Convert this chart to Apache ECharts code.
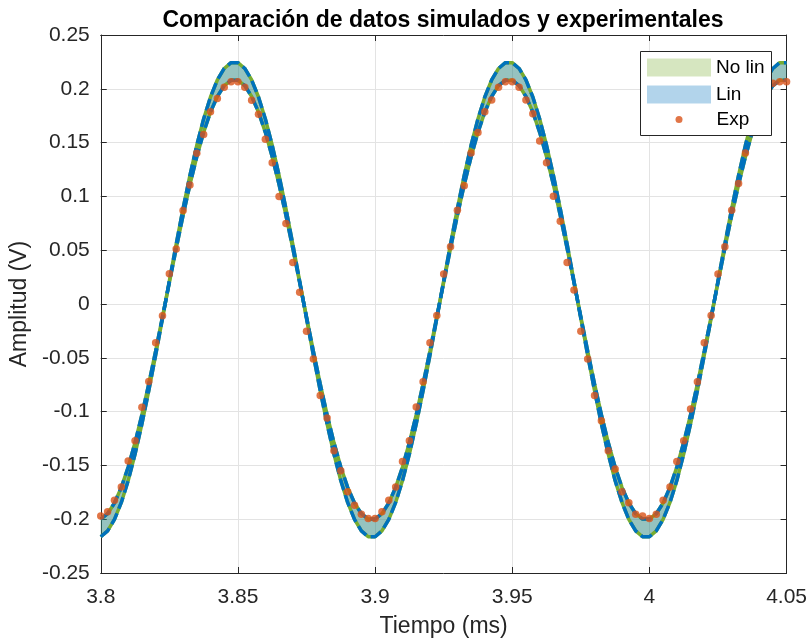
<!DOCTYPE html>
<html lang="es">
<head>
    <meta charset="utf-8">
    <title>Comparación de datos simulados y experimentales</title>
    <script src="https://cdn.jsdelivr.net/npm/echarts@6/dist/echarts.min.js"></script>
    <style>
        html, body { margin: 0; padding: 0; background: #fff; }
        #main { width: 810px; height: 643px; }
    </style>
</head>
<body>
<div id="main"></div>
<script type="text/javascript">
    // tiempo en ms, muestreo cada 0.0025 ms
    var tiempo = [
        3.8, 3.8025, 3.805, 3.8075, 3.81, 3.8125, 3.815, 3.8175, 3.82, 3.8225,
        3.825, 3.8275, 3.83, 3.8325, 3.835, 3.8375, 3.84, 3.8425, 3.845, 3.8475,
        3.85, 3.8525, 3.855, 3.8575, 3.86, 3.8625, 3.865, 3.8675, 3.87, 3.8725,
        3.875, 3.8775, 3.88, 3.8825, 3.885, 3.8875, 3.89, 3.8925, 3.895, 3.8975,
        3.9, 3.9025, 3.905, 3.9075, 3.91, 3.9125, 3.915, 3.9175, 3.92, 3.9225,
        3.925, 3.9275, 3.93, 3.9325, 3.935, 3.9375, 3.94, 3.9425, 3.945, 3.9475,
        3.95, 3.9525, 3.955, 3.9575, 3.96, 3.9625, 3.965, 3.9675, 3.97, 3.9725,
        3.975, 3.9775, 3.98, 3.9825, 3.985, 3.9875, 3.99, 3.9925, 3.995, 3.9975,
        4.0, 4.0025, 4.005, 4.0075, 4.01, 4.0125, 4.015, 4.0175, 4.02, 4.0225,
        4.025, 4.0275, 4.03, 4.0325, 4.035, 4.0375, 4.04, 4.0425, 4.045, 4.0475,
        4.05
    ];

    // borde exterior de la banda simulada
    var simSup = [
        -0.2163, -0.2109, -0.2002, -0.1844, -0.1641, -0.1395, -0.1115, -0.0806, -0.0476, -0.0133,
        0.0213, 0.0556, 0.0886, 0.1195, 0.1475, 0.1720, 0.1924, 0.2082, 0.2189, 0.2243,
        0.2243, 0.2189, 0.2082, 0.1924, 0.1720, 0.1475, 0.1195, 0.0886, 0.0556, 0.0213,
        -0.0133, -0.0476, -0.0806, -0.1115, -0.1395, -0.1641, -0.1844, -0.2002, -0.2109, -0.2163,
        -0.2163, -0.2109, -0.2002, -0.1844, -0.1641, -0.1395, -0.1115, -0.0806, -0.0476, -0.0133,
        0.0213, 0.0556, 0.0886, 0.1195, 0.1475, 0.1720, 0.1924, 0.2082, 0.2189, 0.2243,
        0.2243, 0.2189, 0.2082, 0.1924, 0.1720, 0.1475, 0.1195, 0.0886, 0.0556, 0.0213,
        -0.0133, -0.0476, -0.0806, -0.1115, -0.1395, -0.1641, -0.1844, -0.2002, -0.2109, -0.2163,
        -0.2163, -0.2109, -0.2002, -0.1844, -0.1641, -0.1395, -0.1115, -0.0806, -0.0476, -0.0133,
        0.0213, 0.0556, 0.0886, 0.1195, 0.1475, 0.1720, 0.1924, 0.2082, 0.2189, 0.2243,
        0.2243
    ];

    // borde interior de la banda simulada
    var simInf = [
        -0.1999, -0.1949, -0.1849, -0.1704, -0.1515, -0.1288, -0.1029, -0.0743, -0.0437, -0.0120,
        0.0200, 0.0517, 0.0823, 0.1109, 0.1368, 0.1595, 0.1784, 0.1929, 0.2029, 0.2079,
        0.2079, 0.2029, 0.1929, 0.1784, 0.1595, 0.1368, 0.1109, 0.0823, 0.0517, 0.0200,
        -0.0120, -0.0437, -0.0743, -0.1029, -0.1288, -0.1515, -0.1704, -0.1849, -0.1949, -0.1999,
        -0.1999, -0.1949, -0.1849, -0.1704, -0.1515, -0.1288, -0.1029, -0.0743, -0.0437, -0.0120,
        0.0200, 0.0517, 0.0823, 0.1109, 0.1368, 0.1595, 0.1784, 0.1929, 0.2029, 0.2079,
        0.2079, 0.2029, 0.1929, 0.1784, 0.1595, 0.1368, 0.1109, 0.0823, 0.0517, 0.0200,
        -0.0120, -0.0437, -0.0743, -0.1029, -0.1288, -0.1515, -0.1704, -0.1849, -0.1949, -0.1999,
        -0.1999, -0.1949, -0.1849, -0.1704, -0.1515, -0.1288, -0.1029, -0.0743, -0.0437, -0.0120,
        0.0200, 0.0517, 0.0823, 0.1109, 0.1368, 0.1595, 0.1784, 0.1929, 0.2029, 0.2079,
        0.2079
    ];

    // datos experimentales (V)
    var experimental = [
        -0.197, -0.193, -0.1825, -0.170, -0.146, -0.127, -0.096, -0.072, -0.036, -0.011,
        0.028, 0.051, 0.087, 0.1105, 0.140, 0.1575, 0.1786, 0.191, 0.2014, 0.2066,
        0.2066, 0.2014, 0.1893, 0.1764, 0.153, 0.1313, 0.100, 0.0747, 0.0386, 0.011,
        -0.0253, -0.051, -0.085, -0.106, -0.1365, -0.155, -0.1744, -0.187, -0.1953, -0.1993,
        -0.1993, -0.1931, -0.1825, -0.170, -0.1464, -0.1271, -0.0957, -0.0723, -0.0359, -0.0107,
        0.0279, 0.0531, 0.0871, 0.1099, 0.1403, 0.1593, 0.1786, 0.1895, 0.2014, 0.2066,
        0.2066, 0.2014, 0.1895, 0.1768, 0.1516, 0.1313, 0.1002, 0.0768, 0.0386, 0.013,
        -0.0253, -0.0511, -0.0851, -0.1084, -0.1365, -0.1533, -0.1744, -0.1846, -0.1953, -0.1971,
        -0.1993, -0.1953, -0.1825, -0.1701, -0.1464, -0.1271, -0.0975, -0.0723, -0.0359, -0.0107,
        0.0279, 0.0531, 0.0871, 0.112, 0.1403, 0.1593, 0.1786, 0.1895, 0.2051, 0.2066,
        0.2066
    ];

    var verde = '#77AC30';
    var azul = '#0072BD';
    var naranja = '#D95319';
    var ejeColor = '#262626';

    function pares(ys) {
        var out = [];
        for (var i = 0; i < tiempo.length; i++) out.push([tiempo[i], ys[i]]);
        return out;
    }

    // banda rellena entre los dos bordes (poligono)
    function banda(relleno) {
        return function (params, api) {
            var pts = [];
            for (var i = 0; i < tiempo.length; i++) pts.push(api.coord([tiempo[i], simSup[i]]));
            for (var j = tiempo.length - 1; j >= 0; j--) pts.push(api.coord([tiempo[j], simInf[j]]));
            return { type: 'polygon', shape: { points: pts }, style: { fill: relleno } };
        };
    }

    function fmt(v) { return String(parseFloat(v.toFixed(3))); }

    function linea(name, ys, color, tipo) {
        return {
            name: name, type: 'line', data: pares(ys), symbol: 'none', silent: true, z: 2,
            lineStyle: { color: color, width: 3.5, type: tipo }
        };
    }

    var myChart = echarts.init(document.getElementById('main'));

    var option = {
        animation: false,
        textStyle: { fontFamily: 'Liberation Sans, Arial, sans-serif' },
        title: {
            text: 'Comparación de datos simulados y experimentales',
            left: 443, top: 9, padding: 0, textAlign: 'center',
            textStyle: { fontSize: 23, fontWeight: 'bold', color: '#000' }
        },
        grid: { left: 98, right: 22, top: 35, bottom: 65 },
        xAxis: [{
            type: 'value', min: 3.8, max: 4.05, interval: 0.05, position: 'bottom',
            name: 'Tiempo (ms)', nameLocation: 'middle', nameGap: 42,
            nameTextStyle: { fontSize: 23, color: ejeColor },
            axisLine: { onZero: false, lineStyle: { color: ejeColor, width: 1 } },
            axisTick: { inside: true, length: 6, lineStyle: { color: ejeColor } },
            axisLabel: { fontSize: 21, color: ejeColor, margin: 14, formatter: fmt },
            splitLine: { show: true, lineStyle: { color: '#e3e3e3', width: 1 } }
        }, {
            type: 'value', min: 3.8, max: 4.05, interval: 0.05, position: 'top',
            axisLine: { onZero: false, lineStyle: { color: ejeColor, width: 1 } },
            axisTick: { inside: true, length: 6, lineStyle: { color: ejeColor } },
            axisLabel: { show: false }, splitLine: { show: false }
        }],
        yAxis: [{
            type: 'value', min: -0.25, max: 0.25, interval: 0.05, position: 'left',
            name: 'Amplitud (V)', nameLocation: 'middle', nameGap: 64,
            nameTextStyle: { fontSize: 23, color: ejeColor },
            axisLine: { show: true, onZero: false, lineStyle: { color: ejeColor, width: 1 } },
            axisTick: { show: true, inside: true, length: 6, lineStyle: { color: ejeColor } },
            axisLabel: { fontSize: 21, color: ejeColor, margin: 11, formatter: fmt },
            splitLine: { show: true, lineStyle: { color: '#e3e3e3', width: 1 } }
        }, {
            type: 'value', min: -0.25, max: 0.25, interval: 0.05, position: 'right',
            axisLine: { show: true, onZero: false, lineStyle: { color: ejeColor, width: 1 } },
            axisTick: { show: true, inside: true, length: 6, lineStyle: { color: ejeColor } },
            axisLabel: { show: false }, splitLine: { show: false }
        }],
        graphic: [{
            type: 'rect', z: 10,
            shape: { x: 640.5, y: 51.5, width: 131, height: 84 },
            style: { fill: '#fff', stroke: ejeColor, lineWidth: 1 }
        }],
        legend: [{
            data: [{ name: 'No lin', icon: 'rect' }, { name: 'Lin', icon: 'rect' }],
            orient: 'vertical', left: 647, top: 58, padding: 0, z: 20,
            itemWidth: 64, itemHeight: 18, itemGap: 8, selectedMode: false,
            textStyle: { fontSize: 19, color: '#000' }
        }, {
            data: [{ name: 'Exp', icon: 'circle' }],
            orient: 'vertical', left: 675.5, top: 110, padding: 0, z: 20,
            itemWidth: 7, itemHeight: 7, selectedMode: false,
            formatter: '{e|{name}}',
            textStyle: { fontSize: 19, color: '#000', rich: { e: { fontSize: 19, color: '#000', padding: [0, 0, 0, 29] } } }
        }],
        series: [
            {
                name: 'No lin', type: 'custom', renderItem: banda('rgba(119,172,48,0.3)'),
                data: [[tiempo[0], simSup[0]]], silent: true, z: 1,
                itemStyle: { color: 'rgba(119,172,48,0.3)' }
            },
            {
                name: 'Lin', type: 'custom', renderItem: banda('rgba(0,114,189,0.3)'),
                data: [[tiempo[0], simSup[0]]], silent: true, z: 1,
                itemStyle: { color: 'rgba(0,114,189,0.3)' }
            },
            linea('supNoLin', simSup, verde, 'solid'),
            linea('infNoLin', simInf, verde, 'solid'),
            linea('supLin', simSup, azul, [12, 5]),
            linea('infLin', simInf, azul, [12, 5]),
            {
                name: 'Exp', type: 'scatter', data: pares(experimental),
                symbol: 'circle', symbolSize: 7.5, z: 4,
                itemStyle: { color: naranja }
            }
        ]
    };
    myChart.setOption(option);
</script>
</body>
</html>
